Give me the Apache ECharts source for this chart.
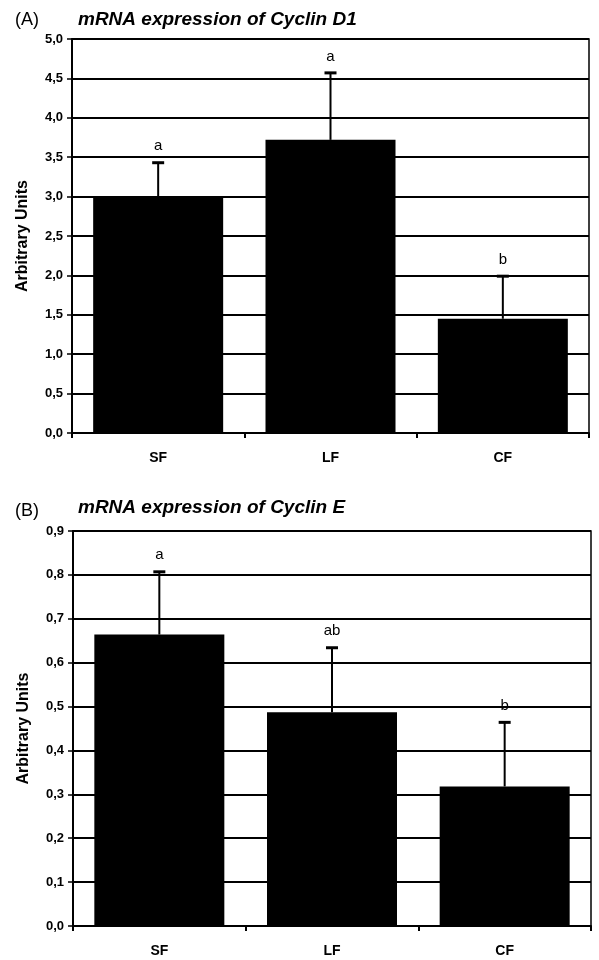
<!DOCTYPE html>
<html>
<head>
<meta charset="utf-8">
<script src="https://cdn.jsdelivr.net/npm/echarts@6/dist/echarts.min.js"></script>
<style>
  html, body { margin: 0; padding: 0; background: #fff; }
  #main { width: 599px; height: 960px; }
</style>
</head>
<body>
<div id="main"></div>
<script>
// values
const categories = ['SF', 'LF', 'CF'];
const cyclinD1 = [3.0, 3.72, 1.45];
const cyclinD1Err = [0.43, 0.85, 0.54];
const cyclinD1Sig = ['a', 'a', 'b'];
const cyclinE = [0.664, 0.487, 0.318];
const cyclinEErr = [0.143, 0.147, 0.146];
const cyclinESig = ['a', 'ab', 'b'];

const font = 'Liberation Sans, Arial, sans-serif';
const yLabel = v => v.toFixed(1).replace('.', ',');

let mychart = echarts.init(document.getElementById('main'));

function xAxisFor(gridIndex) {
  return {
    type: 'category',
    gridIndex: gridIndex,
    data: categories,
    axisLine: { lineStyle: { color: '#000', width: 2 } },
    axisTick: { show: true, length: 5, lineStyle: { color: '#000', width: 2 } },
    axisLabel: { margin: 18, color: '#000', fontWeight: 'bold', fontSize: 14, fontFamily: font },
    splitLine: { show: false }
  };
}

function yAxisFor(gridIndex, max, interval) {
  return {
    type: 'value',
    gridIndex: gridIndex,
    min: 0,
    max: max,
    interval: interval,
    name: 'Arbitrary Units',
    nameLocation: 'middle',
    nameGap: 41,
    nameTextStyle: { color: '#000', fontWeight: 'bold', fontSize: 16, fontFamily: font },
    axisLine: { show: true, lineStyle: { color: '#000', width: 2 } },
    axisTick: { show: true, length: 5, lineStyle: { color: '#000', width: 1.5 } },
    axisLabel: { margin: 9, color: '#000', fontWeight: 'bold', fontSize: 13, fontFamily: font, formatter: yLabel },
    splitLine: { show: true, lineStyle: { color: '#000', width: 1.8 } }
  };
}

function barSeries(idx, vals) {
  return {
    type: 'bar',
    xAxisIndex: idx,
    yAxisIndex: idx,
    data: vals,
    barWidth: 130,
    z: 3,
    itemStyle: { color: '#000' }
  };
}

// upper error bar + significance letter
function errorSeries(idx, vals, errs, sig) {
  return {
    type: 'custom',
    xAxisIndex: idx,
    yAxisIndex: idx,
    z: 5,
    data: vals.map((v, i) => [i, v, errs[i]]),
    renderItem: (params, api) => {
      let base = api.coord([api.value(0), api.value(1)]);
      let top = api.coord([api.value(0), api.value(1) + api.value(2)]);
      return {
        type: 'group',
        children: [
          { type: 'line', shape: { x1: top[0], y1: base[1], x2: top[0], y2: top[1] },
            style: { stroke: '#000', lineWidth: 2 } },
          { type: 'line', shape: { x1: top[0] - 6, y1: top[1], x2: top[0] + 6, y2: top[1] },
            style: { stroke: '#000', lineWidth: 3 } },
          { type: 'text', x: top[0], y: top[1] - 9,
            style: { text: sig[params.dataIndex], fill: '#000', fontSize: 15, fontFamily: font,
                     align: 'center', verticalAlign: 'bottom' } }
        ]
      };
    }
  };
}

mychart.setOption({
  animation: false,
  title: [
    { text: '(A)', left: 15, top: 11, padding: 0,
      textStyle: { color: '#000', fontWeight: 'normal', fontSize: 18, fontFamily: font } },
    { text: 'mRNA expression of Cyclin D1', left: 78, top: 10, padding: 0,
      textStyle: { color: '#000', fontWeight: 'bold', fontStyle: 'italic', fontSize: 19, fontFamily: font } },
    { text: '(B)', left: 15, top: 502, padding: 0,
      textStyle: { color: '#000', fontWeight: 'normal', fontSize: 18, fontFamily: font } },
    { text: 'mRNA expression of Cyclin E', left: 78, top: 498, padding: 0,
      textStyle: { color: '#000', fontWeight: 'bold', fontStyle: 'italic', fontSize: 19, fontFamily: font } }
  ],
  grid: [
    { left: 72, right: 10, top: 39, height: 394, show: true, borderColor: '#000', borderWidth: 1.5 },
    { left: 73, right: 8, top: 531, height: 395, show: true, borderColor: '#000', borderWidth: 1.5 }
  ],
  xAxis: [xAxisFor(0), xAxisFor(1)],
  yAxis: [yAxisFor(0, 5, 0.5), yAxisFor(1, 0.9, 0.1)],
  series: [
    barSeries(0, cyclinD1),
    errorSeries(0, cyclinD1, cyclinD1Err, cyclinD1Sig),
    barSeries(1, cyclinE),
    errorSeries(1, cyclinE, cyclinEErr, cyclinESig)
  ]
});
</script>
</body>
</html>
